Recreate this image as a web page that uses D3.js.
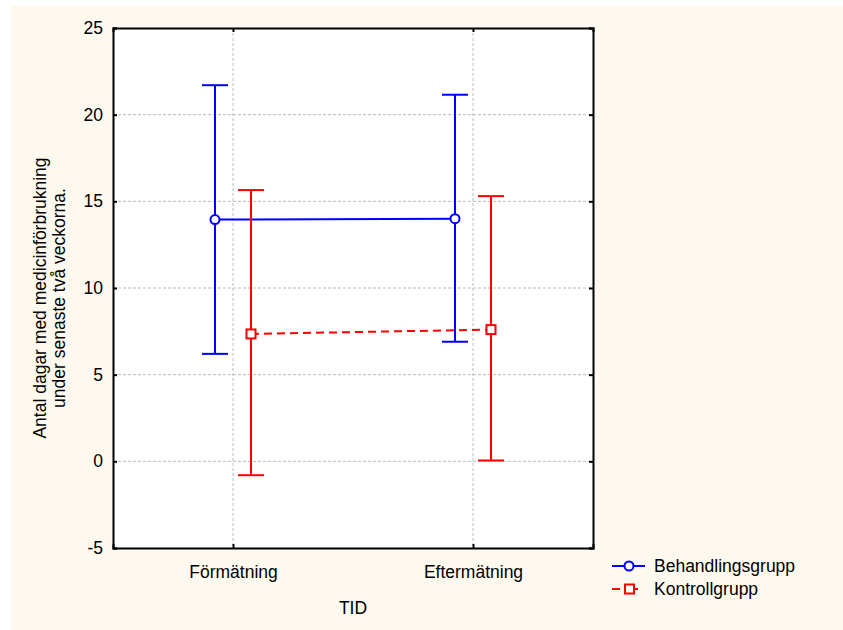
<!DOCTYPE html>
<html>
<head>
<meta charset="utf-8">
<script src="https://cdn.jsdelivr.net/npm/d3@7"></script>
<style>
  body { margin: 0; background: #fff; }
  svg { display: block; font-family: "Liberation Sans", Arial, sans-serif; }
</style>
</head>
<body>
<svg width="843" height="630"></svg>
<script>
// DATA
var categories = ["Förmätning", "Eftermätning"];
var seriesNames = ["Behandlingsgrupp", "Kontrollgrupp"];
var behandMean = [13.95, 14.0];
var behandLow = [6.2, 6.9];
var behandHigh = [21.7, 21.15];
var kontrollMean = [7.35, 7.6];
var kontrollLow = [-0.8, 0.05];
var kontrollHigh = [15.65, 15.3];
var yTicks = [-5, 0, 5, 10, 15, 20, 25];

var FS = 17.5;

var svg = d3.select("svg"),
  margin = { top: 28, left: 113, right: 250, bottom: 82 },
  width = 843 - margin.left - margin.right,
  height = 630 - margin.top - margin.bottom;

svg.append("rect")
  .attr("x", 11).attr("y", 6)
  .attr("width", 832).attr("height", 624)
  .attr("fill", "#fdf9ee");

var g = svg.append("g")
  .attr("transform", "translate(" + margin.left + "," + margin.top + ")");

var x = d3.scalePoint().domain(categories).range([0, width]).padding(0.5);
var y = d3.scaleLinear().domain([-5, 25]).range([height, 0]);

g.append("rect")
  .attr("width", width).attr("height", height)
  .attr("fill", "#fff");

// grid
g.selectAll(".hgrid")
  .data(yTicks.slice(1, -1))
  .enter().append("line")
  .attr("x1", 0).attr("x2", width)
  .attr("y1", function (d) { return y(d); })
  .attr("y2", function (d) { return y(d); })
  .attr("stroke", "#bbb").attr("stroke-dasharray", "3,2");

g.selectAll(".vgrid")
  .data(categories)
  .enter().append("line")
  .attr("x1", function (d) { return x(d); })
  .attr("x2", function (d) { return x(d); })
  .attr("y1", 0).attr("y2", height)
  .attr("stroke", "#bbb").attr("stroke-dasharray", "3,2");

// axes
g.append("g")
  .call(d3.axisLeft(y).tickValues(yTicks).tickSize(-4).tickPadding(10)
    .tickFormat(function (d) { return String(d); }));
g.append("g")
  .attr("transform", "translate(0," + height + ")")
  .call(d3.axisBottom(x).tickSize(-4).tickPadding(17.5));
g.append("g")
  .call(d3.axisTop(x).tickSize(-4).tickFormat(""));
g.append("g")
  .attr("transform", "translate(" + width + ",0)")
  .call(d3.axisRight(y).tickValues(yTicks).tickSize(-4).tickFormat(""));

g.selectAll(".domain").attr("stroke", "#000").attr("stroke-width", 2);
g.selectAll(".tick line").attr("stroke", "#000").attr("stroke-width", 2);
g.selectAll(".tick text")
  .attr("font-size", FS).attr("fill", "#000")
  .attr("font-family", "Liberation Sans, Arial, sans-serif");

// series
var series = [
  { name: seriesNames[0], mean: behandMean, low: behandLow, high: behandHigh, color: "#0000ff", off: -18, dash: null, shape: "circle" },
  { name: seriesNames[1], mean: kontrollMean, low: kontrollLow, high: kontrollHigh, color: "#ff0000", off: 18, dash: "8,5", shape: "square" }
];

series.forEach(function (s) {
  var pts = categories.map(function (c, i) {
    return { x: x(c) + s.off, m: s.mean[i], lo: s.low[i], hi: s.high[i] };
  });

  var line = d3.line()
    .x(function (d) { return d.x; })
    .y(function (d) { return y(d.m); });

  g.append("path")
    .datum(pts)
    .attr("d", line)
    .attr("fill", "none")
    .attr("stroke", s.color)
    .attr("stroke-width", 2)
    .attr("stroke-dasharray", s.dash);

  g.selectAll(null)
    .data(pts)
    .enter().append("line")
    .attr("x1", function (d) { return d.x; })
    .attr("x2", function (d) { return d.x; })
    .attr("y1", function (d) { return y(d.lo); })
    .attr("y2", function (d) { return y(d.hi); })
    .attr("stroke", s.color).attr("stroke-width", 2);

  ["lo", "hi"].forEach(function (k) {
    g.selectAll(null)
      .data(pts)
      .enter().append("line")
      .attr("x1", function (d) { return d.x - 13; })
      .attr("x2", function (d) { return d.x + 13; })
      .attr("y1", function (d) { return y(d[k]); })
      .attr("y2", function (d) { return y(d[k]); })
      .attr("stroke", s.color).attr("stroke-width", 2);
  });

  if (s.shape === "circle") {
    g.selectAll(null)
      .data(pts)
      .enter().append("circle")
      .attr("cx", function (d) { return d.x; })
      .attr("cy", function (d) { return y(d.m); })
      .attr("r", 4.5)
      .attr("fill", "#fff").attr("stroke", s.color).attr("stroke-width", 2);
  } else {
    g.selectAll(null)
      .data(pts)
      .enter().append("rect")
      .attr("x", function (d) { return d.x - 4.5; })
      .attr("y", function (d) { return y(d.m) - 4.5; })
      .attr("width", 9).attr("height", 9)
      .attr("fill", "#fff").attr("stroke", s.color).attr("stroke-width", 2);
  }
});

// axis titles
svg.append("text")
  .attr("x", margin.left + width / 2).attr("y", 614)
  .attr("text-anchor", "middle")
  .attr("font-size", FS)
  .text("TID");

var yt = svg.append("text")
  .attr("transform", "translate(46,298) rotate(-90)")
  .attr("text-anchor", "middle")
  .attr("font-size", FS);
yt.append("tspan").attr("x", 0).attr("dy", 0).text("Antal dagar med medicinförbrukning");
yt.append("tspan").attr("x", 0).attr("dy", 19).text("under senaste två veckorna.");

// legend
var legend = svg.append("g").attr("transform", "translate(612,566)");
series.forEach(function (s, i) {
  var lg = legend.append("g").attr("transform", "translate(0," + i * 23 + ")");
  lg.append("line")
    .attr("x1", 0).attr("x2", 33)
    .attr("stroke", s.color).attr("stroke-width", 2)
    .attr("stroke-dasharray", s.dash ? "8,10" : null);
  if (s.shape === "circle") {
    lg.append("circle").attr("cx", 17).attr("r", 4.5)
      .attr("fill", "#fff").attr("stroke", s.color).attr("stroke-width", 2);
  } else {
    lg.append("rect").attr("x", 13).attr("y", -4.5).attr("width", 9).attr("height", 9)
      .attr("fill", "#fff").attr("stroke", s.color).attr("stroke-width", 2);
  }
  lg.append("text")
    .attr("x", 42).attr("dy", "0.35em")
    .attr("font-size", FS)
    .text(s.name);
});
</script>
</body>
</html>
